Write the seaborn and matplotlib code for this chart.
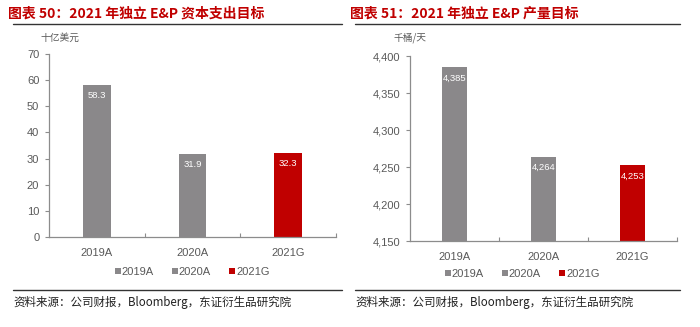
import matplotlib
matplotlib.use("Agg")
import matplotlib.pyplot as plt
from matplotlib.lines import Line2D
from matplotlib.patches import Patch
import seaborn as sns
import pandas as pd

sns.set_theme(style="white")
plt.rcParams["font.family"] = ["Liberation Sans", "Noto Sans CJK SC", "DejaVu Sans"]

categories = ["2019A", "2020A", "2021G"]
capex = [58.3, 31.9, 32.3]
production = [4385, 4264, 4253]
capex_labels = ["58.3", "31.9", "32.3"]
production_labels = ["4,385", "4,264", "4,253"]

titles = ["图表 50：2021 年独立 E&P 资本支出目标", "图表 51：2021 年独立 E&P 产量目标"]
units = ["十亿美元", "千桶/天"]
source = "资料来源：公司财报，Bloomberg，东证衍生品研究院"

GRAY = "#8a888a"
RED = "#c00000"
TEXT = "#595959"
palette = {"2019A": GRAY, "2020A": GRAY, "2021G": RED}

fig = plt.figure(figsize=(7.0, 3.27), dpi=100)
W, H = 700, 327


def fx(px):
    return px / W


def fy(py):
    return 1 - py / H


def draw_panel(rect, values, labels, ylim, yticks, fmt, width):
    ax = fig.add_axes(rect)
    df = pd.DataFrame({"cat": categories, "val": values})
    sns.barplot(data=df, x="cat", y="val", hue="cat", palette=palette,
                width=width, dodge=False, legend=False, ax=ax,
                saturation=1, edgecolor="none")
    ax.set_ylim(*ylim)
    ax.set_xlim(-0.5, 2.5)
    ax.set_yticks(yticks)
    ax.set_yticklabels([fmt(v) for v in yticks])
    ax.set_xlabel("")
    ax.set_ylabel("")
    for s in ["top", "right"]:
        ax.spines[s].set_visible(False)
    for s in ["left", "bottom"]:
        ax.spines[s].set_color("#8c8c8c")
        ax.spines[s].set_linewidth(0.9)
    ax.tick_params(axis="y", which="major", left=True, length=3, width=0.8,
                   color="#8c8c8c", labelsize=8, labelcolor=TEXT, pad=4)
    ax.tick_params(axis="x", which="major", bottom=False, labelsize=8,
                   labelcolor=TEXT, pad=2)
    ax.set_xticks([0.5, 1.5, 2.5], minor=True)
    ax.tick_params(axis="x", which="minor", bottom=True, direction="in",
                   length=3, width=0.8, color="#8c8c8c")
    for i, (v, lab) in enumerate(zip(values, labels)):
        ax.annotate(lab, (i, v), xytext=(0, -8), textcoords="offset points",
                    ha="center", va="center", color="white", fontsize=6.8)
    return ax


ax1 = draw_panel([fx(49), fy(237), fx(336) - fx(49), fy(54) - fy(237)],
                 capex, capex_labels, (0, 70), list(range(0, 71, 10)),
                 lambda v: f"{v:d}", 0.29)
ax2 = draw_panel([fx(410), fy(241), fx(677) - fx(410), fy(56) - fy(241)],
                 production, production_labels, (4150, 4400),
                 list(range(4150, 4401, 50)), lambda v: f"{v:,d}", 0.28)

# legends
handles = [Patch(facecolor=palette[c], edgecolor="none", label=c) for c in categories]
for ax, cx, cy in [(ax1, 192, 272), (ax2, 522, 274)]:
    fig.legend(handles=handles, loc="center", bbox_to_anchor=(fx(cx), fy(cy)),
               ncol=3, frameon=False, fontsize=8, labelcolor=TEXT,
               handlelength=0.55, handleheight=0.55, handletextpad=0.1,
               columnspacing=1.6)

# titles, rules, units, sources
cjk = ["Noto Sans CJK SC", "DejaVu Sans"]
for x0, x1, title, unit, ux, src_x in [(13, 342, titles[0], units[0], 40, 13),
                                        (355, 680, titles[1], units[1], 393, 355)]:
    fig.text(fx(x0 - 5), fy(14), title, color=RED, fontsize=10,
             fontweight="bold", va="center", ha="left", family=cjk)
    fig.add_artist(Line2D([fx(x0), fx(x1)], [fy(24), fy(24)], color="#333333",
                          lw=1.0, transform=fig.transFigure))
    fig.text(fx(ux), fy(38), unit, color=TEXT, fontsize=7, va="center",
             ha="left", family=cjk)
    fig.add_artist(Line2D([fx(x0), fx(x1)], [fy(290), fy(290)], color="#333333",
                          lw=1.0, transform=fig.transFigure))
    fig.text(fx(src_x), fy(302), source, color="#222222", fontsize=8.3,
             va="center", ha="left", family=cjk)

fig.savefig("out.png", dpi=100, facecolor="white")
